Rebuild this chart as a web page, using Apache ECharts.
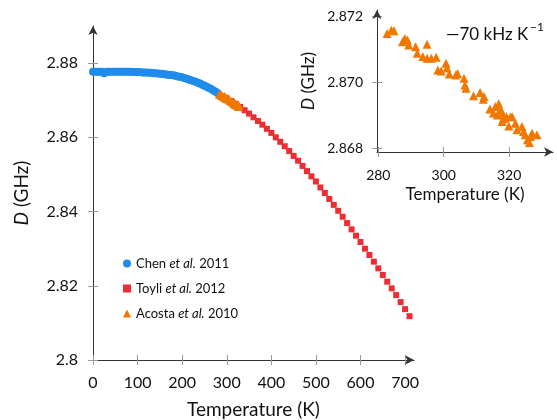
<!DOCTYPE html>
<html>
<head>
<meta charset="utf-8">
<script src="https://cdn.jsdelivr.net/npm/echarts@6/dist/echarts.min.js"></script>
<style>html,body{margin:0;padding:0;background:#fff}#c{width:557px;height:420px}</style>
</head>
<body>
<div id="c"></div>
<script>
// ---- data ----
const chenT = [0,5,10,15,20,25,30,35,40,45,50,55,60,65,70,75,80,85,90,95,100,105,110,115,120,125,130,135,140,145,150,155,160,165,170,175,180,185,190,195,200,205,210,215,220,225,230,235,240,245,250,255,260,265,270,275,280];
const chenD = [2.8777,2.8777,2.8777,2.8777,2.8777,2.8773,2.8777,2.8777,2.8777,2.8777,2.8777,2.8777,2.8777,2.8777,2.8777,2.8777,2.8777,2.8777,2.8776,2.8776,2.8776,2.8776,2.8775,2.8775,2.8775,2.8774,2.8774,2.8773,2.8773,2.8772,2.8771,2.8771,2.8770,2.8769,2.8768,2.8768,2.8767,2.8766,2.8764,2.8763,2.8762,2.8760,2.8758,2.8756,2.8754,2.8752,2.8750,2.8747,2.8745,2.8742,2.8739,2.8736,2.8733,2.8730,2.8726,2.8723,2.8719];

const toyliT = [300,310,320,330,340,350,360,370,380,390,400,410,420,430,440,450,460,470,480,490,500,510,520,530,540,550,560,570,580,590,600,610,620,630,640,650,660,670,680,690,700,710];
const toyliD = [2.8705,2.8698,2.8690,2.8682,2.8673,2.8664,2.8654,2.8644,2.8634,2.8623,2.8612,2.8600,2.8588,2.8576,2.8563,2.8550,2.8537,2.8523,2.8509,2.8495,2.8481,2.8465,2.8450,2.8434,2.8418,2.8402,2.8386,2.8369,2.8352,2.8335,2.8318,2.8300,2.8283,2.8265,2.8247,2.8229,2.8211,2.8193,2.8175,2.8156,2.8137,2.8118];

const acostaT = [282.7,284.0,284.8,287.4,288.1,288.9,289.3,291.4,291.9,294.9,293.6,294.9,296.2,297.7,298.2,299.2,300.7,301.0,301.7,303.7,304.2,306.2,306.5,306.8,309.1,311.1,312.3,312.1,314.1,315.2,315.8,316.4,316.8,317.4,317.9,318.2,319.2,317.9,319.9,320.9,321.9,322.4,323.9,324.4,324.9,325.6,326.2,327.0,326.5,328.5,318.6,320.4];
const acostaD = [2.87149,2.87159,2.87157,2.87124,2.87134,2.87129,2.87114,2.87109,2.87089,2.87116,2.87079,2.87074,2.87074,2.87077,2.87038,2.87035,2.87059,2.87044,2.87026,2.87023,2.87028,2.87013,2.86993,2.86983,2.86960,2.86970,2.86958,2.86950,2.86920,2.86908,2.86928,2.86902,2.86936,2.86918,2.86908,2.86892,2.86897,2.86882,2.86869,2.86897,2.86877,2.86857,2.86867,2.86852,2.86842,2.86827,2.86819,2.86847,2.86837,2.86842,2.86892,2.86897];

const mainXTicks = [0,100,200,300,400,500,600,700];
const mainYTicks = [2.80,2.82,2.84,2.86,2.88];
const insetXTicks = [280,300,320];
const insetYTicks = [2.868,2.870,2.872];

const legendNames = {Chen:'Chen {i|et al.} 2011', Toyli:'Toyli {i|et al.} 2012', Acosta:'Acosta {i|et al.} 2010'};

// ---- build ----
const zip = (a,b) => a.map((v,i)=>[v,b[i]]);
const FONT = 'Lato';
const lineStyle = {color:'#333', width:1};
const tickStyle = {color:'#999', width:1};

function axisPair(o){
  const common = {type:'value', gridIndex:o.grid, min:o.min, max:o.max, scale:true, splitLine:{show:false}, position:o.pos};
  const a = Object.assign({}, common, {
    axisLine:{show:true, lineStyle:lineStyle, symbol:['none','arrow'], symbolSize:[7,9]},
    axisTick:{show:true, length:5, lineStyle:tickStyle, customValues:o.ticks},
    axisLabel:{show:true, customValues:o.ticks, margin:o.margin, fontFamily:FONT, fontSize:o.fs, color:'#111', formatter:o.fmt},
    name:o.name, nameLocation:'middle', nameGap:o.nameGap,
    nameTextStyle:{fontFamily:FONT, fontSize:o.nfs, color:'#111', rich:{i:{fontFamily:FONT, fontSize:o.nfs, fontStyle:'italic', color:'#111'}}}
  });
  const b = Object.assign({}, common, {
    axisLine:{show:false},
    axisTick:{show:true, inside:true, length:5, lineStyle:tickStyle, customValues:o.ticks},
    axisLabel:{show:false}
  });
  return [a,b];
}

const xAxes = [].concat(
  axisPair({grid:0, min:0, max:720, pos:'bottom', ticks:mainXTicks, margin:15, fs:16, name:'Temperature (K)', nameGap:40, nfs:19}),
  axisPair({grid:1, min:279.6, max:333.4, pos:'bottom', ticks:insetXTicks, margin:16, fs:14, name:'Temperature (K)', nameGap:34, nfs:17})
);
const yAxes = [].concat(
  axisPair({grid:0, min:2.8, max:2.89, pos:'left', ticks:mainYTicks, margin:15, fs:16, name:'{i|D} (GHz)', nameGap:62, nfs:19}),
  axisPair({grid:1, min:2.8679, max:2.8722, pos:'left', ticks:insetYTicks, margin:14, fs:14, fmt:(v)=>v.toFixed(3), name:'{i|D} (GHz)', nameGap:60, nfs:17})
);

const BLUE='#1f8ceb', RED='#ec2d34', ORANGE='#f07800';

const option = {
  animation:false,
  backgroundColor:'#fff',
  textStyle:{fontFamily:FONT},
  grid:[
    {left:93, top:26, width:321, height:334, outerBoundsMode:'none', containLabel:false},
    {left:377, top:10, width:176, height:142, outerBoundsMode:'none', containLabel:false}
  ],
  xAxis:xAxes,
  yAxis:yAxes,
  legend:{
    data:[{name:'Chen', icon:'circle'},{name:'Toyli', icon:'rect'},{name:'Acosta', icon:'triangle'}],
    orient:'vertical', left:118, top:252, itemWidth:8, itemHeight:8, itemGap:12,
    formatter:(n)=>legendNames[n],
    textStyle:{fontFamily:FONT, fontSize:13, color:'#111', rich:{i:{fontFamily:FONT, fontSize:13, fontStyle:'italic', color:'#111'}}}
  },
  graphic:[
    {type:'text', left:446, top:26, style:{text:'—70 kHz K', font:'17px Lato', fill:'#111'}},
    {type:'text', left:530, top:21, style:{text:'−1', font:'12px Lato', fill:'#111'}}
  ],
  series:[
    {name:'Chen', type:'scatter', xAxisIndex:0, yAxisIndex:0, symbol:'circle', symbolSize:8, itemStyle:{color:BLUE, opacity:1}, data:zip(chenT,chenD)},
    {name:'Toyli', type:'scatter', xAxisIndex:0, yAxisIndex:0, symbol:'rect', symbolSize:6, itemStyle:{color:RED, opacity:1}, data:zip(toyliT,toyliD)},
    {name:'Acosta', type:'scatter', xAxisIndex:0, yAxisIndex:0, symbol:'triangle', symbolSize:8, itemStyle:{color:ORANGE, opacity:1}, data:zip(acostaT,acostaD)},
    {name:'Acosta inset', type:'scatter', xAxisIndex:2, yAxisIndex:2, symbol:'triangle', symbolSize:9, itemStyle:{color:ORANGE, opacity:1}, data:zip(acostaT,acostaD)}
  ]
};
const chart = echarts.init(document.getElementById('c'), null, {renderer:'canvas'});
chart.setOption(option);
</script>
</body>
</html>
